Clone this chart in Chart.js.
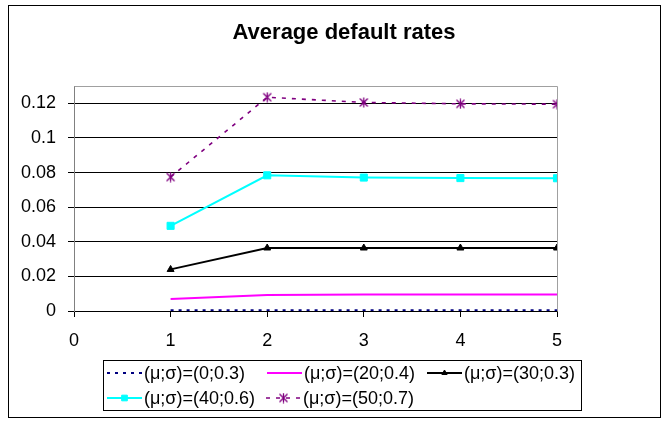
<!DOCTYPE html>
<html>
<head>
<meta charset="utf-8">
<script src="https://cdn.jsdelivr.net/npm/chart.js@4"></script>
<style>
html,body{margin:0;padding:0;background:#fff;}
canvas{display:block;}
</style>
</head>
<body>
<canvas id="c" width="669" height="421"></canvas>
<script>
const titleText = "Average default rates";
const xValues = [1, 2, 3, 4, 5];
const yTicks = [0, 0.02, 0.04, 0.06, 0.08, 0.1, 0.12];
const labels = ["(μ;σ)=(0;0.3)", "(μ;σ)=(20;0.4)", "(μ;σ)=(30;0.3)", "(μ;σ)=(40;0.6)", "(μ;σ)=(50;0.7)"];
const s1 = [0.0004, 0.0004, 0.0004, 0.0004, 0.0004];
const s2 = [0.0070, 0.0093, 0.0095, 0.0095, 0.0095];
const s3 = [0.0240, 0.0364, 0.0364, 0.0364, 0.0364];
const s4 = [0.0492, 0.0784, 0.0771, 0.0768, 0.0767];
const s5 = [0.0774, 0.1235, 0.1205, 0.1197, 0.1195];

function pts(arr){ return xValues.map((x,i)=>({x:x,y:arr[i]})); }

// Excel-like asterisk marker
const star = document.createElement('canvas');
star.width = 11; star.height = 11;
(function(){
  const g = star.getContext('2d');
  g.strokeStyle = '#800080'; g.lineWidth = 1.3;
  g.beginPath();
  g.moveTo(1.5,1.5); g.lineTo(9.5,9.5);
  g.moveTo(9.5,1.5); g.lineTo(1.5,9.5);
  g.moveTo(5.5,0.5); g.lineTo(5.5,10.5);
  g.stroke();
})();

const datasets = [
  {label: labels[0], data: pts(s1), borderColor:'#000080', backgroundColor:'#000080', borderWidth:2.2, borderDash:[3,5], pointRadius:0},
  {label: labels[1], data: pts(s2), borderColor:'#FF00FF', backgroundColor:'#FF00FF', borderWidth:2, pointRadius:0},
  {label: labels[2], data: pts(s3), borderColor:'#000000', backgroundColor:'#000000', borderWidth:1.8, pointStyle:'triangle', pointRadius:4, pointBorderWidth:1},
  {label: labels[3], data: pts(s4), borderColor:'#00FFFF', backgroundColor:'#00FFFF', borderWidth:2, pointStyle:'rect', pointRadius:5, pointBorderWidth:1},
  {label: labels[4], data: pts(s5), borderColor:'#800080', backgroundColor:'#800080', borderWidth:1.6, borderDash:[4,6], pointStyle:star, pointRadius:5}
];

const framePlugin = {
  id:'frame',
  beforeDraw(chart){
    const ctx = chart.ctx;
    ctx.save();
    ctx.fillStyle = '#fff';
    ctx.fillRect(0,0,chart.width,chart.height);
    ctx.strokeStyle = '#000'; ctx.lineWidth = 1;
    ctx.strokeRect(8.5,5.5,652,412);
    ctx.fillStyle = '#000';
    ctx.font = 'bold 22px "Liberation Sans", Arial, sans-serif';
    ctx.textAlign = 'center'; ctx.textBaseline = 'middle';
    ctx.fillText(titleText, 344, 33);
    ctx.restore();
  },
  beforeDatasetsDraw(chart){
    const a = chart.chartArea, ctx = chart.ctx;
    ctx.save();
    ctx.strokeStyle = '#a0a0a0'; ctx.lineWidth = 1;
    ctx.beginPath();
    ctx.moveTo(Math.round(a.left)+0.5, Math.round(a.top)+0.5);
    ctx.lineTo(Math.round(a.right)+0.5, Math.round(a.top)+0.5);
    ctx.lineTo(Math.round(a.right)+0.5, Math.round(a.bottom)+0.5);
    ctx.stroke();
    ctx.restore();
  },
  afterDraw(chart){
    const ctx = chart.ctx;
    ctx.save();
    ctx.strokeStyle = '#000'; ctx.lineWidth = 1;
    ctx.strokeRect(103.5,360.5,478,50);
    const pos = [[107,373],[267,373],[427,373],[107,398],[266,398]];
    ctx.font = '18px "Liberation Sans", Arial, sans-serif';
    ctx.textBaseline = 'middle'; ctx.textAlign = 'left';
    chart.data.datasets.forEach((d,i)=>{
      const [x,y] = pos[i];
      ctx.save();
      ctx.strokeStyle = d.borderColor; ctx.lineWidth = d.borderWidth;
      ctx.setLineDash(d.borderDash || []);
      ctx.beginPath(); ctx.moveTo(x,y); ctx.lineTo(x+35,y); ctx.stroke();
      ctx.restore();
      if (d.pointRadius > 0) {
        if (typeof d.pointStyle === 'string') {
          ctx.save(); ctx.fillStyle = d.backgroundColor; ctx.strokeStyle = d.borderColor;
          Chart.helpers.drawPoint(ctx, {pointStyle:d.pointStyle, radius:d.pointRadius-1, borderWidth:1, rotation:0}, x+17.5, y);
          ctx.restore();
        } else {
          Chart.helpers.drawPoint(ctx, {pointStyle:d.pointStyle, radius:d.pointRadius, borderWidth:1, rotation:0}, x+17.5, y);
        }
      }
      ctx.fillStyle = '#000';
      ctx.fillText(d.label, x+37, y+1);
    });
    ctx.restore();
  }
};

new Chart(document.getElementById('c'), {
  type:'line',
  data:{datasets:datasets},
  plugins:[framePlugin],
  options:{
    responsive:false,
    animation:false,
    layout:{padding:{top:86,right:112,left:0,bottom:0}},
    plugins:{legend:{display:false}, title:{display:false}, tooltip:{enabled:false}},
    elements:{line:{tension:0}},
    scales:{
      x:{
        type:'linear', min:0, max:5,
        afterFit(s){ s.height = 110; },
        ticks:{stepSize:1, color:'#000', font:{size:18, family:'"Liberation Sans", Arial, sans-serif'}, padding:13, maxRotation:0},
        grid:{drawOnChartArea:false, drawTicks:true, tickLength:6, color:'#000'},
        border:{color:'#000'}
      },
      y:{
        type:'linear', min:0, max:0.13,
        afterFit(s){ s.width = 74; },
        afterBuildTicks(s){ s.ticks = yTicks.map(v=>({value:v})); },
        ticks:{color:'#000', font:{size:18, family:'"Liberation Sans", Arial, sans-serif'}, padding:12,
          callback(v){ return String(parseFloat(Number(v).toFixed(2))); }},
        grid:{color:'#000', tickLength:6, drawTicks:true},
        border:{color:'#808080'}
      }
    }
  }
});
</script>
</body>
</html>
